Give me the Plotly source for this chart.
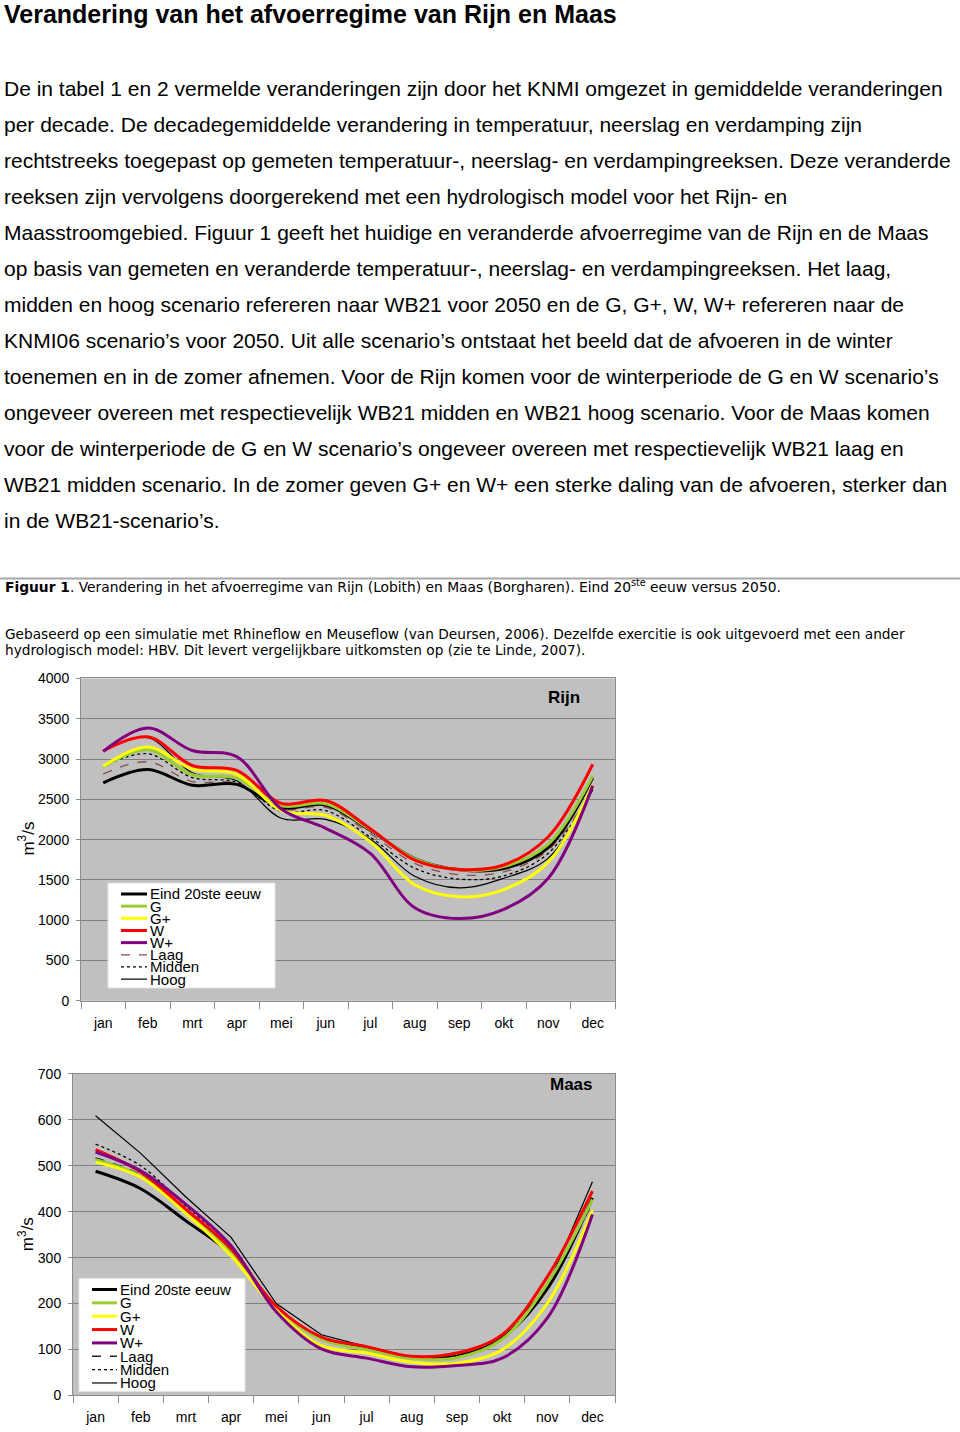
import plotly.graph_objects as go

W, H = 960, 1432

months = ["jan", "feb", "mrt", "apr", "mei", "jun", "jul", "aug", "sep", "okt", "nov", "dec"]
series_names = ["Eind 20ste eeuw", "G", "G+", "W", "W+", "Laag", "Midden", "Hoog"]

# Rijn (Lobith), m3/s
rijn_eind   = [2705, 2870, 2675, 2685, 2395, 2430, 2115, 1765, 1625, 1640, 1900, 2770]
rijn_g      = [2900, 3115, 2805, 2760, 2420, 2445, 2125, 1760, 1625, 1665, 1945, 2790]
rijn_gplus  = [2910, 3150, 2875, 2810, 2360, 2300, 1975, 1440, 1290, 1380, 1720, 2680]
rijn_w      = [3100, 3275, 2920, 2860, 2450, 2485, 2135, 1745, 1630, 1685, 2035, 2935]
rijn_wplus  = [3095, 3385, 3105, 3030, 2380, 2140, 1830, 1155, 1020, 1135, 1520, 2670]
rijn_laag   = [2815, 2965, 2720, 2700, 2380, 2400, 2075, 1705, 1565, 1600, 1870, 2640]
rijn_midden = [2910, 3065, 2770, 2710, 2350, 2360, 2030, 1645, 1510, 1550, 1830, 2630]
rijn_hoog   = [3100, 3265, 2830, 2730, 2265, 2250, 2005, 1545, 1400, 1520, 1770, 2620]

# Maas (Borgharen), m3/s
maas_eind   = [488, 450, 380, 308, 192, 125, 105, 83, 85, 125, 232, 430]
maas_g      = [513, 477, 398, 312, 190, 122, 100, 80, 82, 122, 243, 427]
maas_gplus  = [508, 475, 396, 304, 186, 108, 92, 72, 70, 99, 200, 403]
maas_w      = [535, 486, 405, 319, 194, 127, 106, 85, 92, 132, 258, 445]
maas_wplus  = [530, 489, 416, 326, 182, 101, 81, 62, 65, 81, 168, 394]
maas_laag   = [517, 480, 400, 315, 190, 124, 102, 82, 84, 124, 238, 420]
maas_midden = [547, 500, 412, 326, 192, 126, 104, 82, 85, 127, 240, 425]
maas_hoog   = [609, 527, 432, 344, 200, 132, 106, 84, 86, 128, 235, 465]

rijn_y_ticks = [0, 500, 1000, 1500, 2000, 2500, 3000, 3500, 4000]
maas_y_ticks = [0, 100, 200, 300, 400, 500, 600, 700]

title_text = "Verandering van het afvoerregime van Rijn en Maas"
body_lines = [
    "De in tabel 1 en 2 vermelde veranderingen zijn door het KNMI omgezet in gemiddelde veranderingen",
    "per decade. De decadegemiddelde verandering in temperatuur, neerslag en verdamping zijn",
    "rechtstreeks toegepast op gemeten temperatuur-, neerslag- en verdampingreeksen. Deze veranderde",
    "reeksen zijn vervolgens doorgerekend met een hydrologisch model voor het Rijn- en",
    "Maasstroomgebied. Figuur 1 geeft het huidige en veranderde afvoerregime van de Rijn en de Maas",
    "op basis van gemeten en veranderde temperatuur-, neerslag- en verdampingreeksen. Het laag,",
    "midden en hoog scenario refereren naar WB21 voor 2050 en de G, G+, W, W+ refereren naar de",
    "KNMI06 scenario’s voor 2050. Uit alle scenario’s ontstaat het beeld dat de afvoeren in de winter",
    "toenemen en in de zomer afnemen. Voor de Rijn komen voor de winterperiode de G en W scenario’s",
    "ongeveer overeen met respectievelijk WB21 midden en WB21 hoog scenario. Voor de Maas komen",
    "voor de winterperiode de G en W scenario’s ongeveer overeen met respectievelijk WB21 laag en",
    "WB21 midden scenario. In de zomer geven G+ en W+ een sterke daling van de afvoeren, sterker dan",
    "in de WB21-scenario’s.",
]
caption_line = ("<b>Figuur 1</b>. Verandering in het afvoerregime van Rijn (Lobith) en Maas (Borgharen). "
                "Eind 20<sup>ste</sup> eeuw versus 2050.")
source_lines = [
    "Gebaseerd op een simulatie met Rhineflow en Meuseflow (van Deursen, 2006). Dezelfde exercitie is ook uitgevoerd met een ander",
    "hydrologisch model: HBV. Dit levert vergelijkbare uitkomsten op (zie te Linde, 2007).",
]

# ---------- styles ----------
ARIAL = "Liberation Sans, Arial, sans-serif"
VERDANA = "DejaVu Sans, Verdana, sans-serif"
rijn_styles = [
    dict(color="#000000", width=3, dash="solid"),
    dict(color="#99CC33", width=3, dash="solid"),
    dict(color="#FFFF00", width=3, dash="solid"),
    dict(color="#FF0000", width=3, dash="solid"),
    dict(color="#800080", width=3, dash="solid"),
    dict(color="#8B4A4A", width=1.3, dash="dash"),
    dict(color="#000000", width=1.3, dash="dot"),
    dict(color="#000000", width=1.2, dash="solid"),
]
maas_styles = [dict(s) for s in rijn_styles]
maas_styles[5] = dict(color="#222222", width=1.3, dash="dash")

def px_x(x):
    return x / W

def px_y(y):
    return 1 - y / H

fig = go.Figure()

rijn_data = [rijn_eind, rijn_g, rijn_gplus, rijn_w, rijn_wplus, rijn_laag, rijn_midden, rijn_hoog]
maas_data = [maas_eind, maas_g, maas_gplus, maas_w, maas_wplus, maas_laag, maas_midden, maas_hoog]

order = [7, 6, 5, 0, 1, 2, 3, 4]
for i in order:
    fig.add_trace(go.Scatter(
        x=months, y=rijn_data[i], name=series_names[i], mode="lines",
        line=dict(shape="spline", smoothing=1.0, **rijn_styles[i]),
        xaxis="x", yaxis="y", showlegend=False))
for i in order:
    shape = "linear" if i == 7 else "spline"
    fig.add_trace(go.Scatter(
        x=months, y=maas_data[i], name=series_names[i], mode="lines",
        line=dict(shape=shape, smoothing=1.0, **maas_styles[i]),
        xaxis="x2", yaxis="y2", showlegend=False))

axis_common = dict(showline=True, linecolor="#8c8c8c", linewidth=1, mirror=True,
                   tickfont=dict(family=ARIAL, size=14, color="#000000"))
xcommon = dict(axis_common, type="category", categoryorder="array", categoryarray=months,
               range=[-0.5, 11.5], tickson="boundaries", ticks="outside", ticklen=7,
               tickcolor="#8c8c8c", showgrid=False, ticklabelstandoff=9, fixedrange=True)
ycommon = dict(axis_common, ticks="outside", ticklen=4, tickcolor="#8c8c8c",
               showgrid=True, gridcolor="#808080", gridwidth=1, zeroline=False,
               ticklabelstandoff=4, fixedrange=True)

fig.update_layout(
    width=W, height=H,
    margin=dict(l=0, r=0, t=0, b=0),
    paper_bgcolor="white", plot_bgcolor="#C0C0C0",
    showlegend=False,
    xaxis=dict(xcommon, domain=[px_x(81), px_x(615)], anchor="y"),
    yaxis=dict(ycommon, domain=[px_y(1004), px_y(678)], anchor="x",
               range=[0, 4000], tickvals=rijn_y_ticks),
    xaxis2=dict(xcommon, domain=[px_x(73), px_x(615)], anchor="y2"),
    yaxis2=dict(ycommon, domain=[px_y(1403), px_y(1078)], anchor="x2",
                range=[0, 700], tickvals=maas_y_ticks),
)

annotations = []
shapes = []

# page title
annotations.append(dict(x=px_x(2), y=px_y(6.5), xref="paper", yref="paper", xanchor="left",
                        yanchor="middle", showarrow=False, text="<b>" + title_text + "</b>",
                        font=dict(family=ARIAL, size=25, color="#000000")))
# body text
body_y0, body_dy = 81, 36.4
for k, line in enumerate(body_lines):
    annotations.append(dict(x=px_x(2), y=px_y(body_y0 + k * body_dy), xref="paper", yref="paper",
                            xanchor="left", yanchor="middle", showarrow=False, text=line,
                            font=dict(family=ARIAL, size=21, color="#000000")))
# separator
shapes.append(dict(type="line", xref="paper", yref="paper", x0=0, x1=1,
                   y0=px_y(577), y1=px_y(577), line=dict(color="#a8a8a8", width=2)))
# caption
annotations.append(dict(x=px_x(3), y=px_y(585), xref="paper", yref="paper", xanchor="left",
                        yanchor="middle", showarrow=False, text=caption_line,
                        font=dict(family=VERDANA, size=13.8, color="#000000")))
for k, line in enumerate(source_lines):
    annotations.append(dict(x=px_x(3), y=px_y(633 + 16 * k), xref="paper", yref="paper",
                            xanchor="left", yanchor="middle", showarrow=False, text=line,
                            font=dict(family=VERDANA, size=13.7, color="#000000")))

# chart titles
annotations.append(dict(x=px_x(564), y=px_y(697), xref="paper", yref="paper", showarrow=False,
                        text="<b>Rijn</b>", font=dict(family=ARIAL, size=17, color="#000000")))
annotations.append(dict(x=px_x(571), y=px_y(1100), xref="paper", yref="paper", showarrow=False,
                        text="<b>Maas</b>", font=dict(family=ARIAL, size=17, color="#000000")))
# y-axis titles
for yc in (840, 1240):
    annotations.append(dict(x=px_x(26), y=px_y(yc), xref="paper", yref="paper", showarrow=False,
                            xanchor="center", yanchor="middle",
                            text="m<sup>3</sup>/s", textangle=-90,
                            font=dict(family=ARIAL, size=17, color="#000000")))

# custom legends (tight spacing as in the reference)
def add_legend(box, y0, dy, lx0, lx1, tx, styles):
    bx0, by0, bx1, by1 = box
    shapes.append(dict(type="rect", xref="paper", yref="paper", x0=px_x(bx0), x1=px_x(bx1),
                       y0=px_y(by1), y1=px_y(by0), fillcolor="white",
                       line=dict(color="#e6e6e6", width=1), layer="above"))
    for k, name in enumerate(series_names):
        yy = y0 + k * dy
        st = styles[k]
        shapes.append(dict(type="line", xref="paper", yref="paper", x0=px_x(lx0), x1=px_x(lx1),
                           y0=px_y(yy), y1=px_y(yy), layer="above",
                           line=dict(color=st["color"], width=st["width"], dash=st["dash"])))
        annotations.append(dict(x=px_x(tx), y=px_y(yy), xref="paper", yref="paper",
                                xanchor="left", yanchor="middle", showarrow=False, text=name,
                                font=dict(family=ARIAL, size=15, color="#000000")))

add_legend((108, 885, 275, 991), 896, 12.3, 121, 147, 148, rijn_styles)
add_legend((79, 1285, 245, 1399), 1296, 13.5, 92, 117, 118, maas_styles)

fig.update_layout(annotations=annotations, shapes=shapes)
fig.write_html("out.html", config={"displayModeBar": False},
               post_script="document.body.style.margin='0px';")
